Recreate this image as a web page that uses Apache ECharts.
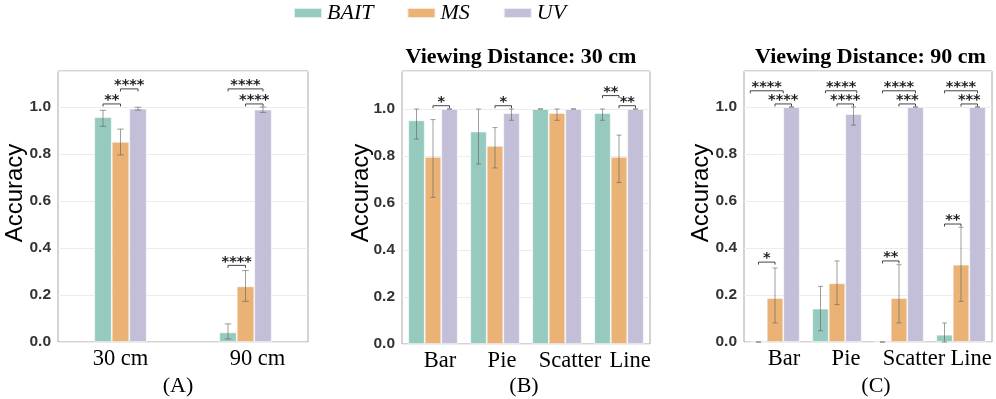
<!DOCTYPE html>
<html>
<head>
<meta charset="utf-8">
<script src="https://cdn.jsdelivr.net/npm/echarts@6.0.0/dist/echarts.min.js"></script>
<style>
  html, body { margin: 0; padding: 0; background: #fff; }
  #chart-container { width: 996px; height: 399px; }
</style>
</head>
<body>
<div id="chart-container"></div>
<script>
// ---- data ----
var groups = ['BAIT', 'MS', 'UV'];
var catsA = ['30 cm', '90 cm'];
var catsBC = ['Bar', 'Pie', 'Scatter', 'Line'];

// (A) accuracy by distance
var baitA = [0.957, 0.041], baitA_lo = [0.918, 0.013], baitA_hi = [0.986, 0.077];
var msA = [0.852, 0.237], msA_lo = [0.796, 0.173], msA_hi = [0.906, 0.304];
var uvA = [0.993, 0.989], uvA_lo = [0.987, 0.977], uvA_hi = [0.999, 1.0];

// (B) 30 cm
var baitB = [0.952, 0.904, 1.0, 0.983], baitB_lo = [0.872, 0.766, 1.0, 0.952], baitB_hi = [1.0, 1.0, 1.0, 1.0];
var msB = [0.796, 0.843, 0.983, 0.796], msB_lo = [0.624, 0.749, 0.952, 0.687], msB_hi = [0.955, 0.921, 1.0, 0.889];
var uvB = [1.0, 0.983, 1.0, 1.0], uvB_lo = [1.0, 0.952, 1.0, 1.0], uvB_hi = [1.0, 1.0, 1.0, 1.0];

// (C) 90 cm
var baitC = [0.0, 0.142, 0.0, 0.031], baitC_lo = [0.0, 0.048, 0.0, 0.0], baitC_hi = [0.0, 0.237, 0.0, 0.081];
var msC = [0.187, 0.25, 0.187, 0.329], msC_lo = [0.081, 0.159, 0.081, 0.173], msC_hi = [0.315, 0.345, 0.329, 0.488];
var uvC = [1.0, 0.97, 1.0, 1.0], uvC_lo = [1.0, 0.923, 1.0, 1.0], uvC_hi = [1.0, 1.0, 1.0, 1.0];

// significance brackets: [category, from bar, to bar (-1 BAIT, 0 MS, 1 UV), level, stars]
var sigA = [[0, -1, 0, 1.013, '**'], [0, 0, 1, 1.077, '****'], [1, -1, 1, 1.077, '****'],
            [1, 0, 1, 1.013, '****'], [1, -1, 0, 0.326, '****']];
var sigB = [[0, 0, 1, 1.014, '*'], [1, 0, 1, 1.014, '*'], [3, -1, 0, 1.057, '**'], [3, 0, 1, 1.014, '**']];
var sigC = [[0, -1.5, 0.5, 1.069, '****'], [0, 0, 1, 1.013, '****'],
            [1, -0.7, 1.2, 1.069, '****'], [1, 0, 1, 1.013, '****'],
            [2, -1, 1, 1.069, '****'], [2, 0, 1, 1.013, '***'],
            [3, -1, 1, 1.069, '****'], [3, 0, 1, 1.013, '***'],
            [0, -1, 0, 0.340, '*'], [2, -1, 0, 0.345, '**'], [3, -1, 0, 0.502, '**']];

// ---- layout / style ----
var colors = ['#96cabf', '#eab274', '#c3bfd9'];
var panels = [
  { cats: catsA, mean: [baitA, msA, uvA], lo: [baitA_lo, msA_lo, uvA_lo], hi: [baitA_hi, msA_hi, uvA_hi],
    sig: sigA, grid: { left: 58, top: 71, width: 250, height: 271 }, yMax: 271 / 235, bw: 17.5, cap: 3.3, shift: [0, 12] },
  { cats: catsBC, mean: [baitB, msB, uvB], lo: [baitB_lo, msB_lo, uvB_lo], hi: [baitB_hi, msB_hi, uvB_hi],
    sig: sigB, grid: { left: 402, top: 71, width: 248, height: 273 }, yMax: 273 / 235, bw: 16.5, cap: 2.5, shift: [7, 7, 13, 11] },
  { cats: catsBC, mean: [baitC, msC, uvC], lo: [baitC_lo, msC_lo, uvC_lo], hi: [baitC_hi, msC_hi, uvC_hi],
    sig: sigC, grid: { left: 744, top: 71, width: 248, height: 271 }, yMax: 271 / 235, bw: 16.5, cap: 2.5, shift: [9, 9, 15, 10] }
];

var dom = document.getElementById('chart-container');
var myChart = echarts.init(dom, null, { renderer: 'canvas' });

var grids = [], xAxes = [], yAxes = [], series = [];

panels.forEach(function (p, pi) {
  grids.push(Object.assign({ show: true, borderColor: '#a8a8a8', borderWidth: 1, containLabel: false }, p.grid));

  var rich = {};
  p.shift.forEach(function (s, i) {
    rich['s' + i] = { fontFamily: 'Liberation Serif', fontSize: 22.5, color: '#000', padding: [0, 0, 0, 2 * s] };
  });
  xAxes.push({
    type: 'category', gridIndex: pi, data: p.cats,
    axisLine: { show: false }, axisTick: { show: false },
    axisLabel: {
      margin: 6, interval: 0,
      formatter: function (v, i) { return '{s' + i + '|' + v + '}'; },
      rich: rich
    }
  });
  yAxes.push({
    type: 'value', gridIndex: pi, min: 0, max: p.yMax, interval: 0.2,
    axisLine: { show: false }, axisTick: { show: false },
    splitLine: { lineStyle: { color: '#ececec', width: 1 } },
    axisLabel: {
      margin: 7, color: '#333', fontFamily: 'Liberation Sans', fontWeight: 'bold', fontSize: 15.5,
      formatter: function (v) { return v > 1.0001 ? '' : v.toFixed(1); }
    }
  });

  groups.forEach(function (g, gi) {
    series.push({
      type: 'bar', name: g, xAxisIndex: pi, yAxisIndex: pi,
      data: p.mean[gi], barWidth: p.bw, barGap: '0%',
      itemStyle: { color: colors[gi], borderColor: 'rgba(255,255,255,0.7)', borderWidth: 0.8 },
      emphasis: { disabled: true }, z: 2
    });
  });

  // error bars
  var errData = [];
  p.cats.forEach(function (c, ci) {
    groups.forEach(function (g, gi) {
      errData.push([ci, gi, p.lo[gi][ci], p.hi[gi][ci]]);
    });
  });
  series.push({
    type: 'custom', xAxisIndex: pi, yAxisIndex: pi, z: 5, silent: true,
    data: errData, encode: { x: 0, y: [2, 3] },
    renderItem: function (params, api) {
      var ci = api.value(0), gi = api.value(1);
      var x = api.coord([ci, 0])[0] + (gi - 1) * p.bw;
      var yl = api.coord([ci, api.value(2)])[1];
      var yh = api.coord([ci, api.value(3)])[1];
      var st = { stroke: 'rgba(95,95,95,0.6)', lineWidth: 1 };
      return { type: 'group', children: [
        { type: 'line', shape: { x1: x, y1: yl, x2: x, y2: yh }, style: st },
        { type: 'line', shape: { x1: x - p.cap, y1: yh, x2: x + p.cap, y2: yh }, style: st },
        { type: 'line', shape: { x1: x - p.cap, y1: yl, x2: x + p.cap, y2: yl }, style: st }
      ] };
    }
  });

  // significance brackets
  series.push({
    type: 'custom', xAxisIndex: pi, yAxisIndex: pi, z: 6, silent: true, clip: false,
    data: p.sig.map(function (d) { return [d[0], d[3]]; }), encode: { x: 0, y: 1 },
    renderItem: function (params, api) {
      var d = p.sig[params.dataIndex];
      var pt = api.coord([d[0], d[3]]);
      var x0 = pt[0] + d[1] * p.bw, x1 = pt[0] + d[2] * p.bw, y = pt[1];
      return { type: 'group', children: [
        { type: 'polyline', shape: { points: [[x0, y + 2.5], [x0, y], [x1, y], [x1, y + 2.5]] },
          style: { stroke: '#444', lineWidth: 1, fill: null } },
        { type: 'text', x: (x0 + x1) / 2, y: y - 3.5,
          style: { text: d[4], fontFamily: 'DejaVu Sans', fontWeight: 'bold', fontSize: 14.5, fill: '#222',
                   textAlign: 'center', align: 'center', textVerticalAlign: 'middle', verticalAlign: 'middle' } }
      ] };
    }
  });
});

function label(txt, x, y, font, rot) {
  return { type: 'text', x: x, y: y, rotation: rot || 0, silent: true,
    style: { text: txt, font: font, fill: '#000', textAlign: 'center', align: 'center',
             textVerticalAlign: 'middle', verticalAlign: 'middle' } };
}

var option = {
  animation: false,
  legend: {
    data: groups, left: 293, top: 2, padding: 0, itemGap: 33, itemWidth: 28, itemHeight: 10,
    icon: 'rect', selectedMode: false,
    textStyle: { fontFamily: 'Liberation Serif', fontStyle: 'italic', fontSize: 22, color: '#000' }
  },
  grid: grids, xAxis: xAxes, yAxis: yAxes, series: series,
  graphic: [
    label('Viewing Distance: 30 cm', 521, 57, 'bold 22px "Liberation Serif"'),
    label('Viewing Distance: 90 cm', 870.5, 57, 'bold 22px "Liberation Serif"'),
    label('Accuracy', 15, 193, '24px "Liberation Sans"', Math.PI / 2),
    label('Accuracy', 361, 193, '24px "Liberation Sans"', Math.PI / 2),
    label('Accuracy', 701.5, 193, '24px "Liberation Sans"', Math.PI / 2),
    label('(A)', 178, 386, '22px "Liberation Serif"'),
    label('(B)', 524, 386, '22px "Liberation Serif"'),
    label('(C)', 876, 386, '22px "Liberation Serif"')
  ]
};

myChart.setOption(option);
window.addEventListener('resize', myChart.resize);
</script>
</body>
</html>
